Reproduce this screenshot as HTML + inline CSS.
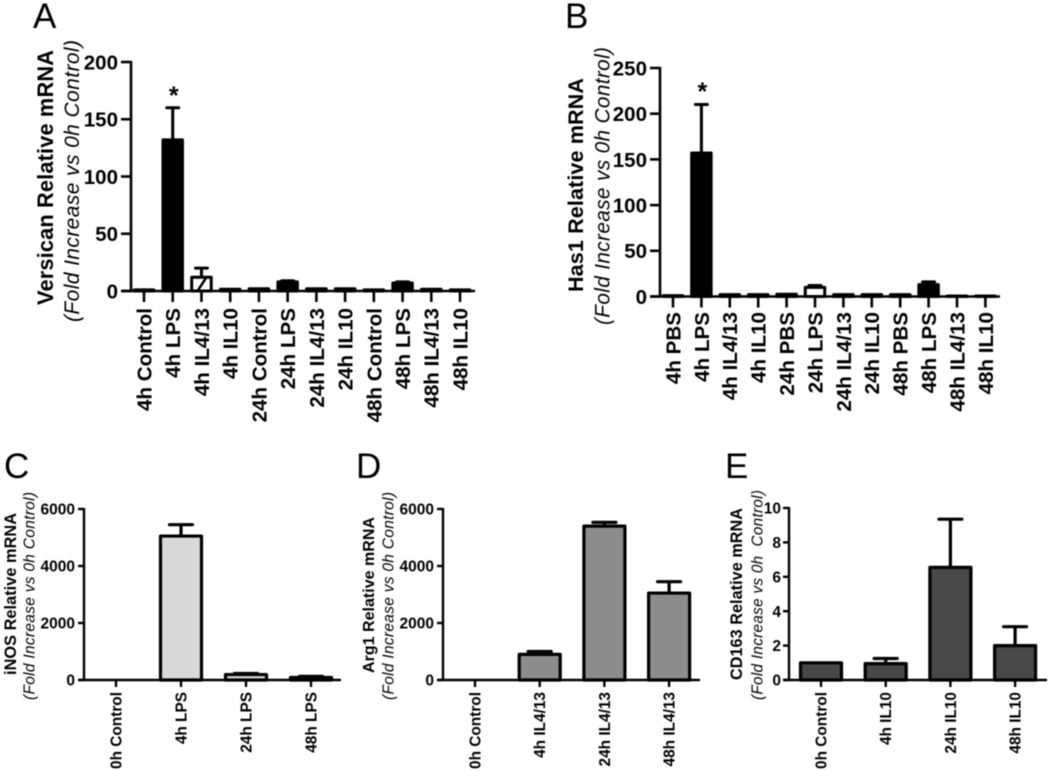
<!DOCTYPE html>
<html lang="en">
<head>
<meta charset="utf-8">
<title>Relative mRNA charts</title>
<style>
html,body{margin:0;padding:0;background:#fff;width:1050px;height:771px;overflow:hidden}
svg{display:block;filter:blur(0.55px)}
text{font-family:"Liberation Sans",sans-serif;fill:#000}
</style>
</head>
<body>
<svg id="figure" xmlns="http://www.w3.org/2000/svg" width="1050" height="771" viewBox="0 0 1050 771"></svg>
<script>
const aCategories = ['4h Control','4h LPS','4h IL4/13','4h IL10','24h Control','24h LPS','24h IL4/13','24h IL10','48h Control','48h LPS','48h IL4/13','48h IL10'];
const aValues = [1,132,12,1.5,2,8,2,2,1,7,1.5,1];
const aErrorTops = [1,160,20,1.5,2,9,2,2,1,8,1.5,1];
const aTicks = [0,50,100,150,200];

const bCategories = ['4h PBS','4h LPS','4h IL4/13','4h IL10','24h PBS','24h LPS','24h IL4/13','24h IL10','48h PBS','48h LPS','48h IL4/13','48h IL10'];
const bValues = [1,157,2,2,2.5,10,2,2,2,13,0.5,0.5];
const bErrorTops = [1,210,2,2,2.5,12,2,2,2,16,0.5,0.5];
const bTicks = [0,50,100,150,200,250];

const cCategories = ['0h Control','4h LPS','24h LPS','48h LPS'];
const cValues = [0,5050,190,90];
const cErrorTops = [0,5450,230,130];
const cTicks = [0,2000,4000,6000];

const dCategories = ['0h Control','4h IL4/13','24h IL4/13','48h IL4/13'];
const dValues = [0,900,5400,3050];
const dErrorTops = [0,1000,5530,3450];
const dTicks = [0,2000,4000,6000];

const eCategories = ['0h Control','4h IL10','24h IL10','48h IL10'];
const eValues = [1,0.95,6.55,2];
const eErrorTops = [1,1.25,9.35,3.1];
const eTicks = [0,2,4,6,8,10];

const NS = 'http://www.w3.org/2000/svg';
const root = document.getElementById('figure');

function make(parent, tag, attrs, content) {
  const el = document.createElementNS(NS, tag);
  for (const k in attrs) el.setAttribute(k, attrs[k]);
  if (content !== undefined) el.textContent = content;
  parent.appendChild(el);
  return el;
}

function drawPanel(p) {
  const g = make(root, 'g', {});
  
  

  const maxTick = p.ticks[p.ticks.length - 1];
  const yScale = v => p.y0 - (v / maxTick) * (p.y0 - p.yTop);
  const xScale = i => p.x0 + i * p.step;

  const letter = make(g, 'text', {x: p.letterX, y: p.letterY, 'font-size': 35}, p.letter);
  
  

  p.values.forEach((v, i) => {
    const xc = xScale(i);
    const top = yScale(p.errorTops[i]);
    if (p.errorTops[i] > v) {
      const err = make(g, 'path', {
        d: `M${xc} ${yScale(v)}V${top}M${xc - p.capW / 2} ${top}H${xc + p.capW / 2}`,
        fill: 'none', stroke: '#000', 'stroke-width': p.sw, 'stroke-linecap': 'round'
      });
      
      
    }
    if (v > 0) {
      const isWhite = p.whiteBars.includes(i);
      const bar = make(g, 'rect', {
        x: xc - p.barW / 2, y: yScale(v), width: p.barW, height: p.y0 - yScale(v),
        fill: isWhite ? '#fff' : p.fill, stroke: '#000', 'stroke-width': p.sw, 'stroke-linejoin': 'round'
      });
      
      
      if (p.hatchBars.includes(i)) {
        const hatch = make(g, 'line', {
          x1: xc - 4, y1: p.y0, x2: xc + 5, y2: yScale(v),
          stroke: '#000', 'stroke-width': 2.5
        });
        
        
      }
    }
  });

  const yAxis = make(g, 'line', {x1: p.axisX, x2: p.axisX, y1: p.yTop - 1, y2: p.y0 + 1, stroke: '#000', 'stroke-width': p.axisW});
  
  
  const xAxis = make(g, 'line', {x1: p.axisX - p.tickY, x2: p.axisEnd, y1: p.y0, y2: p.y0, stroke: '#000', 'stroke-width': p.axisW});
  
  

  p.ticks.forEach(t => {
    const yy = yScale(t);
    const tick = make(g, 'line', {x1: p.axisX - p.tickY, x2: p.axisX, y1: yy, y2: yy, stroke: '#000', 'stroke-width': p.axisW});
    
    
    const lab = make(g, 'text', {
      x: p.labelEnd, y: yy + p.yFont * 0.36, 'text-anchor': 'end',
      'font-size': p.yFont, 'font-weight': 'bold'
    }, t);
    
    
  });

  p.categories.forEach((c, i) => {
    const xc = xScale(i);
    const tick = make(g, 'line', {x1: xc, x2: xc, y1: p.y0, y2: p.y0 + p.tickX, stroke: '#000', 'stroke-width': p.axisW});
    
    
    const baseX = xc + p.xFont * 0.36;
    const lab = make(g, 'text', {
      x: baseX, y: p.xLabelTop, 'text-anchor': 'end',
      transform: `rotate(-90 ${baseX} ${p.xLabelTop})`,
      'font-size': p.xFont, 'font-weight': 'bold'
    }, c);
    
    
  });

  const titleMid = (p.title.y1 + p.title.y2) / 2;
  const title = make(g, 'text', {
    x: p.title.x, y: titleMid, 'text-anchor': 'middle',
    transform: `rotate(-90 ${p.title.x} ${titleMid})`,
    'font-size': p.title.size, 'font-weight': 'bold',
    textLength: p.title.y2 - p.title.y1, lengthAdjust: 'spacing'
  }, p.title.text);
  
  

  const subMid = (p.sub.y1 + p.sub.y2) / 2;
  const sub = make(g, 'text', {
    x: p.sub.x, y: subMid, 'text-anchor': 'middle',
    transform: `rotate(-90 ${p.sub.x} ${subMid})`,
    'font-size': p.sub.size, 'font-style': 'italic',
    textLength: p.sub.y2 - p.sub.y1, lengthAdjust: 'spacing'
  }, p.sub.text);
  
  

  if (p.starIndex !== undefined) {
    const star = make(g, 'text', {
      x: xScale(p.starIndex) + 1, y: p.starY, 'text-anchor': 'middle',
      'font-size': 25, 'font-weight': 'bold'
    }, '*');
    
    
  }
}

const subText = '(Fold Increase vs 0h Control)';

drawPanel({
  letter: 'A', letterX: 33, letterY: 28,
  categories: aCategories, values: aValues, errorTops: aErrorTops, ticks: aTicks,
  x0: 144, step: 28.73, y0: 291, yTop: 62, axisX: 131, axisEnd: 475,
  barW: 19.5, capW: 12, sw: 3, axisW: 2.6, fill: '#000', whiteBars: [2], hatchBars: [2],
  tickY: 10, tickX: 11, labelEnd: 118, yFont: 20.5,
  xFont: 20.6, xLabelTop: 308,
  title: {x: 53, y1: 50, y2: 305, size: 21.8, text: 'Versican Relative mRNA'},
  sub: {x: 79, y1: 40, y2: 322, size: 21, text: subText},
  starIndex: 1, starY: 104
});

drawPanel({
  letter: 'B', letterX: 565, letterY: 28,
  categories: bCategories, values: bValues, errorTops: bErrorTops, ticks: bTicks,
  x0: 673, step: 28.4, y0: 296.5, yTop: 68, axisX: 660, axisEnd: 1000,
  barW: 19.5, capW: 12, sw: 3, axisW: 2.6, fill: '#000', whiteBars: [5], hatchBars: [],
  tickY: 10, tickX: 11, labelEnd: 647, yFont: 20.5,
  xFont: 20.6, xLabelTop: 312,
  title: {x: 583, y1: 78, y2: 292, size: 21.6, text: 'Has1 Relative mRNA'},
  sub: {x: 609.5, y1: 47, y2: 325, size: 20.8, text: subText},
  starIndex: 1, starY: 100
});

drawPanel({
  letter: 'C', letterX: 4, letterY: 478,
  categories: cCategories, values: cValues, errorTops: cErrorTops, ticks: cTicks,
  x0: 116, step: 65, y0: 680, yTop: 509, axisX: 84, axisEnd: 341,
  barW: 41, capW: 23, sw: 3.2, axisW: 2.4, fill: '#d9d9d9', whiteBars: [], hatchBars: [],
  tickY: 6, tickX: 7, labelEnd: 75, yFont: 15.5,
  xFont: 15.4, xLabelTop: 692,
  title: {x: 16, y1: 513, y2: 675, size: 16.3, text: 'iNOS Relative mRNA'},
  sub: {x: 34.5, y1: 492, y2: 700, size: 15.5, text: subText}
});

drawPanel({
  letter: 'D', letterX: 356, letterY: 478,
  categories: dCategories, values: dValues, errorTops: dErrorTops, ticks: dTicks,
  x0: 475, step: 64.7, y0: 680, yTop: 509, axisX: 443, axisEnd: 700,
  barW: 41, capW: 23, sw: 3.2, axisW: 2.4, fill: '#8c8c8c', whiteBars: [], hatchBars: [],
  tickY: 6, tickX: 7, labelEnd: 434, yFont: 15.5,
  xFont: 15.4, xLabelTop: 692,
  title: {x: 374, y1: 517, y2: 673, size: 16, text: 'Arg1 Relative mRNA'},
  sub: {x: 393.5, y1: 492, y2: 700, size: 15.5, text: subText}
});

drawPanel({
  letter: 'E', letterX: 725, letterY: 478,
  categories: eCategories, values: eValues, errorTops: eErrorTops, ticks: eTicks,
  x0: 821, step: 64.7, y0: 680, yTop: 508, axisX: 789, axisEnd: 1047,
  barW: 41, capW: 23, sw: 3.2, axisW: 2.4, fill: '#484848', whiteBars: [], hatchBars: [],
  tickY: 6, tickX: 7, labelEnd: 781, yFont: 15.5,
  xFont: 15.4, xLabelTop: 692,
  title: {x: 742, y1: 508, y2: 680, size: 16.2, text: 'CD163 Relative mRNA'},
  sub: {x: 762.5, y1: 490, y2: 700, size: 15.3, text: '(Fold Increase vs 0h\u00a0\u00a0Control)'}
});
</script>
</body>
</html>
